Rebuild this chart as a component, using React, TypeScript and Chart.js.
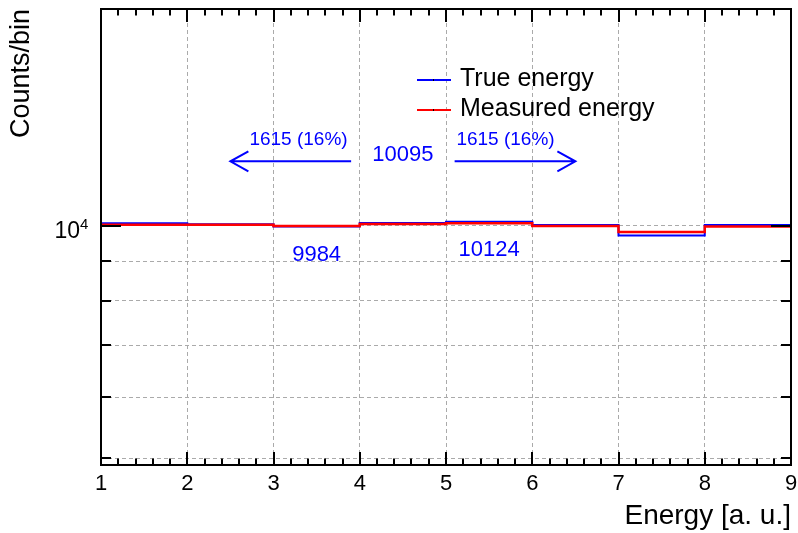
import React, { useEffect, useRef } from 'react';
import { Chart, registerables } from 'chart.js';

Chart.register(...registerables);

// ---- data ----
const binEdges = [1, 2, 3, 4, 5, 6, 7, 8, 9];
const trueCounts = [10081, 10051, 9984, 10090, 10124, 10030, 9720, 10024];
const measuredCounts = [10036, 10036, 9997, 10054, 10081, 9994, 9823, 9979];
const xTickValues = [1, 2, 3, 4, 5, 6, 7, 8, 9];
const yTickValues = [5000, 6000, 7000, 8000, 9000, 10000];
const yLabelledTick = 10000;
const seriesNames = ['True energy', 'Measured energy'];
const seriesColors = ['#0000ff', '#ff0000'];
const annotationTexts = ['1615 (16%)', '1615 (16%)', '10095', '9984', '10124'];
const annotationX = [3.29, 5.69, 4.5, 3.5, 5.5];
const annotationY = [12927, 12927, 12360, 9179, 9317];
const arrowFrom = [3.9, 5.1];
const arrowTo = [2.5, 6.5];
const arrowY = [12127, 12127];

const X_MIN = 1;
const X_MAX = 9;
const Y_MIN = 4900;
const Y_MAX = 19100;
const FONT = '"Liberation Sans", Arial, Helvetica, sans-serif';

function histPoints(counts: number[]) {
  return binEdges.map((x, i) => ({ x, y: counts[Math.min(i, counts.length - 1)] }));
}

function zeroPad(scale: any) {
  scale.paddingLeft = 0;
  scale.paddingRight = 0;
  scale.paddingTop = 0;
  scale.paddingBottom = 0;
}

const decorPlugin = {
  id: 'rootDecor',
  afterDraw(chart: any) {
    const { ctx, chartArea: a, scales } = chart;
    const xs = scales.x;
    const ys = scales.y;
    ctx.save();

    // frame
    ctx.strokeStyle = '#000';
    ctx.lineWidth = 2;
    ctx.strokeRect(a.left, a.top, a.right - a.left, a.bottom - a.top);

    // inward ticks
    ctx.beginPath();
    const nMinor = Math.round((X_MAX - X_MIN) * 5);
    for (let i = 0; i <= nMinor; i++) {
      const v = X_MIN + i * 0.2;
      const major = i % 5 === 0;
      const px = Math.round(xs.getPixelForValue(v));
      const len = major ? 13 : 6.5;
      ctx.moveTo(px, a.bottom);
      ctx.lineTo(px, a.bottom - len);
      ctx.moveTo(px, a.top);
      ctx.lineTo(px, a.top + len);
    }
    yTickValues.forEach((v) => {
      const py = Math.round(ys.getPixelForValue(v));
      const len = v === yLabelledTick ? 20 : 10;
      ctx.moveTo(a.left, py);
      ctx.lineTo(a.left + len, py);
      ctx.moveTo(a.right, py);
      ctx.lineTo(a.right - len, py);
    });
    ctx.stroke();

    // y tick label 10^4
    const py4 = ys.getPixelForValue(yLabelledTick);
    ctx.fillStyle = '#000';
    ctx.textBaseline = 'alphabetic';
    ctx.textAlign = 'right';
    ctx.font = `23px ${FONT}`;
    ctx.fillText('10', a.left - 21, py4 + 12);
    ctx.textAlign = 'left';
    ctx.font = `15px ${FONT}`;
    ctx.fillText('4', a.left - 21, py4 + 3);

    // annotations
    ctx.fillStyle = '#0000ff';
    ctx.textAlign = 'center';
    ctx.textBaseline = 'middle';
    annotationTexts.forEach((t, i) => {
      ctx.font = `${t.length > 6 ? 19 : 22}px ${FONT}`;
      ctx.fillText(t, xs.getPixelForValue(annotationX[i]), ys.getPixelForValue(annotationY[i]));
    });

    // arrows
    ctx.strokeStyle = '#0000ff';
    ctx.lineWidth = 2;
    arrowFrom.forEach((f, i) => {
      const x1 = xs.getPixelForValue(f);
      const x2 = xs.getPixelForValue(arrowTo[i]);
      const y = ys.getPixelForValue(arrowY[i]);
      const dir = x2 > x1 ? 1 : -1;
      ctx.beginPath();
      ctx.moveTo(x1, y);
      ctx.lineTo(x2, y);
      ctx.moveTo(x2 - dir * 18, y - 10);
      ctx.lineTo(x2, y);
      ctx.lineTo(x2 - dir * 18, y + 10);
      ctx.stroke();
    });

    // legend
    const legX1 = 417;
    const legX2 = 451;
    const legY = [80, 110];
    seriesNames.forEach((name, i) => {
      ctx.strokeStyle = seriesColors[i];
      ctx.lineWidth = 2;
      ctx.beginPath();
      ctx.moveTo(legX1, legY[i]);
      ctx.lineTo(legX2, legY[i]);
      ctx.stroke();
      ctx.fillStyle = '#000';
      ctx.fillRect(433, legY[i] - 1, 1, 2);
      ctx.font = `25px ${FONT}`;
      ctx.textAlign = 'left';
      ctx.textBaseline = 'middle';
      ctx.fillText(name, 460, legY[i] - 1);
    });

    ctx.restore();
  },
};

export default function App() {
  const canvasRef = useRef<HTMLCanvasElement | null>(null);

  useEffect(() => {
    document.body.style.margin = '0';
    const canvas = canvasRef.current;
    if (!canvas) return;
    const chart = new Chart(canvas, {
      type: 'line',
      data: {
        datasets: [
          {
            label: seriesNames[0],
            data: histPoints(trueCounts),
            borderColor: seriesColors[0],
            borderWidth: 2,
            stepped: true,
            pointRadius: 0,
            fill: false,
            order: 1,
          },
          {
            label: seriesNames[1],
            data: histPoints(measuredCounts),
            borderColor: seriesColors[1],
            borderWidth: 2.5,
            stepped: true,
            pointRadius: 0,
            fill: false,
            order: 0,
          },
        ],
      },
      options: {
        animation: false,
        responsive: false,
        devicePixelRatio: 1,
        layout: { padding: { left: 0, right: 7, top: 9, bottom: 0 } },
        plugins: {
          legend: { display: false },
          tooltip: { enabled: false },
        },
        scales: {
          x: {
            type: 'linear',
            min: X_MIN,
            max: X_MAX,
            afterBuildTicks: (scale: any) => {
              scale.ticks = xTickValues.map((v) => ({ value: v }));
            },
            afterFit: (scale: any) => {
              scale.height = 68;
              zeroPad(scale);
            },
            ticks: {
              color: '#000',
              font: { family: FONT, size: 22 },
              padding: 6,
              maxRotation: 0,
              autoSkip: false,
              callback: (v: any) => String(v),
            },
            grid: { color: '#aaaaaa', lineWidth: 1, drawTicks: false },
            border: { display: false, dash: [4, 3] },
            title: {
              display: true,
              text: 'Energy [a. u.]',
              align: 'end',
              color: '#000',
              font: { family: FONT, size: 28 },
              padding: { top: 0, bottom: 0 },
            },
          },
          y: {
            type: 'logarithmic',
            min: Y_MIN,
            max: Y_MAX,
            afterBuildTicks: (scale: any) => {
              scale.ticks = yTickValues.map((v) => ({ value: v }));
            },
            afterFit: (scale: any) => {
              scale.width = 101;
              zeroPad(scale);
            },
            ticks: {
              display: false,
            },
            grid: { color: '#aaaaaa', lineWidth: 1, drawTicks: false },
            border: { display: false, dash: [4, 3] },
            title: {
              display: true,
              text: 'Counts/bin',
              align: 'end',
              color: '#000',
              font: { family: FONT, size: 27 },
              padding: { top: 5, bottom: 0 },
            },
          },
        },
      },
      plugins: [decorPlugin],
    } as any);
    return () => chart.destroy();
  }, []);

  return (
    <div style={{ position: 'absolute', left: 0, top: 0, width: 798, height: 533, overflow: 'hidden', background: '#fff' }}>
      <canvas ref={canvasRef} width={798} height={533} style={{ width: 798, height: 533, display: 'block' }} />
    </div>
  );
}
